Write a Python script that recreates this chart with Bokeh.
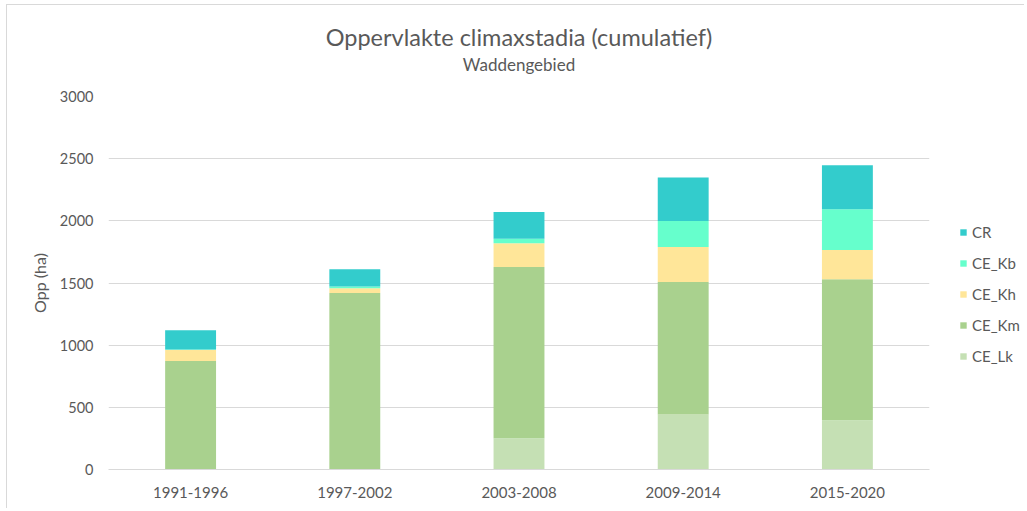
from bokeh.plotting import figure
from bokeh.layouts import row
from bokeh.models import Legend, LegendItem, Title, FixedTicker, Range1d
from bokeh.embed import file_html
from bokeh.resources import INLINE

periods = ["1991-1996", "1997-2002", "2003-2008", "2009-2014", "2015-2020"]
CE_Lk = [0, 0, 252, 443, 397]
CE_Km = [872, 1420, 1377, 1065, 1133]
CE_Kh = [89, 37, 191, 282, 236]
CE_Kb = [5, 14, 35, 209, 327]
CR = [153, 139, 217, 349, 355]

series = ["CE_Lk", "CE_Km", "CE_Kh", "CE_Kb", "CR"]
colors = ["#C5E0B4", "#A9D18E", "#FFE699", "#66FFCC", "#33CCCC"]
y_ticks = [0, 500, 1000, 1500, 2000, 2500, 3000]

FONT = "Lato"
TXT = "#595959"
GRID = "#d9d9d9"

data = dict(period=periods, CE_Lk=CE_Lk, CE_Km=CE_Km, CE_Kh=CE_Kh, CE_Kb=CE_Kb, CR=CR)

H = 503
p = figure(x_range=periods, width=930, height=H, output_backend="svg",
           toolbar_location=None, min_border_left=101, min_border_right=8,
           min_border_bottom=39, min_border_top=91)
p.y_range = Range1d(0, 3000)

renderers = p.vbar_stack(series, x="period", width=0.31, color=colors,
                         line_color=None, source=data)

# titles
p.title.text = ""
sub = Title(text="Waddengebied", align="center", text_font=FONT,
            text_font_size="17px", text_font_style="normal", text_color=TXT,
            standoff=43)
p.add_layout(sub, "above")
main = Title(text="Oppervlakte climaxstadia (cumulatief)", align="center",
             text_font=FONT, text_font_size="23.5px", text_font_style="normal",
             text_color=TXT, standoff=-40)
p.add_layout(main, "above")

# axes
p.yaxis.ticker = FixedTicker(ticks=y_ticks)
p.yaxis.axis_line_color = None
p.yaxis.major_tick_line_color = None
p.yaxis.minor_tick_line_color = None
p.yaxis.major_label_standoff = 9
p.yaxis.major_label_text_font = FONT
p.yaxis.major_label_text_font_size = "14.5px"
p.yaxis.major_label_text_color = TXT
p.yaxis.axis_label = "Opp (ha)"
p.yaxis.axis_label_text_font = FONT
p.yaxis.axis_label_text_font_size = "16px"
p.yaxis.axis_label_text_font_style = "normal"
p.yaxis.axis_label_text_color = TXT
p.yaxis.axis_label_standoff = 8

p.xaxis.axis_line_color = GRID
p.xaxis.axis_line_width = 1
p.xaxis.major_tick_line_color = None
p.xaxis.minor_tick_line_color = None
p.xaxis.major_label_standoff = 11
p.xaxis.major_label_text_font = FONT
p.xaxis.major_label_text_font_size = "15px"
p.xaxis.major_label_text_color = TXT

p.xgrid.grid_line_color = None
p.ygrid.grid_line_color = GRID
p.ygrid.grid_line_width = 1
p.outline_line_color = None
p.x_range.range_padding = 0

# separate legend panel (hidden copies of the bars only feed the legend glyphs)
q = figure(width=87, height=H, output_backend="svg", toolbar_location=None,
           min_border=0, x_range=periods, y_range=(0, 3000))
q.axis.visible = False
q.grid.visible = False
q.outline_line_color = None
leg_renderers = q.vbar_stack(series, x="period", width=0.31, color=colors,
                             line_color=None, source=data)
for r in leg_renderers:
    r.visible = False
items = [LegendItem(label=s, renderers=[r]) for s, r in zip(series, leg_renderers)][::-1]
legend = Legend(items=items, location=(22, 103), orientation="vertical",
                glyph_width=8, glyph_height=8, label_standoff=5,
                label_height=20, spacing=11, padding=0, margin=0,
                label_text_font=FONT, label_text_font_size="15px",
                label_text_color=TXT, background_fill_alpha=0,
                border_line_color=None, inactive_fill_alpha=0)
q.add_layout(legend, "center")

layout = row(p, q, spacing=0)
layout.styles = {"border-top": "1px solid #d9d9d9", "border-left": "1px solid #d9d9d9",
                 "margin-left": "6px", "margin-top": "4px"}

open("out.html", "w").write(file_html(layout, INLINE))
